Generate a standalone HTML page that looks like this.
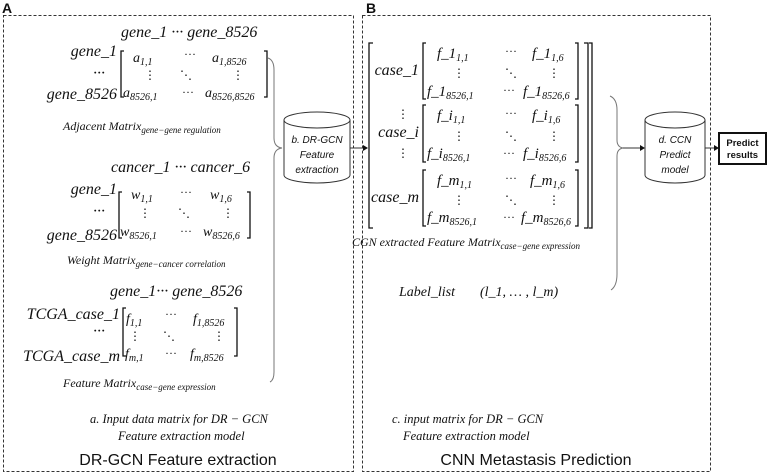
<!DOCTYPE html>
<html><head><meta charset="utf-8"><style>
html,body{margin:0;padding:0;background:#fff;}
svg{display:block;}
.m{font-family:"Liberation Serif","DejaVu Serif",serif;font-style:italic;fill:#111;}
.s{font-family:"Liberation Sans",sans-serif;fill:#111;}
</style></head><body>
<svg width="770" height="475" viewBox="0 0 770 475" xmlns="http://www.w3.org/2000/svg">
<g fill="none" stroke="#333" stroke-width="1" stroke-dasharray="3,2">
<rect x="3.5" y="15.5" width="350" height="456"/>
<rect x="362.5" y="15.5" width="348" height="456"/>
</g>
<text x="2" y="13" class="s" font-size="14" font-weight="bold">A</text>
<text x="366" y="13" class="s" font-size="14" font-weight="bold">B</text>

<g class="m" font-size="16">
<!-- matrix 1 -->
<text x="121" y="37">gene_1 ··· gene_8526</text>
<text x="117" y="56" text-anchor="end">gene_1</text>
<text x="105" y="78" text-anchor="end">···</text>
<text x="117" y="99" text-anchor="end">gene_8526</text>
<text x="133" y="62" font-size="14">a<tspan font-size="10" dy="3">1,1</tspan></text>
<text x="184" y="58" font-size="12" font-style="normal">···</text>
<text x="212" y="62" font-size="14">a<tspan font-size="10" dy="3">1,8526</tspan></text>
<text x="144" y="79" font-size="12" font-style="normal">⋮</text>
<text x="180" y="79" font-size="12" font-style="normal">⋱</text>
<text x="232" y="79" font-size="12" font-style="normal">⋮</text>
<text x="123" y="97" font-size="14">a<tspan font-size="10" dy="3">8526,1</tspan></text>
<text x="182" y="96" font-size="12" font-style="normal">···</text>
<text x="205" y="97" font-size="14">a<tspan font-size="10" dy="3">8526,8526</tspan></text>
<text x="63" y="130" font-size="12">Adjacent Matrix<tspan font-size="9" dy="3">gene−gene regulation</tspan></text>

<!-- matrix 2 -->
<text x="111" y="172">cancer_1 ··· cancer_6</text>
<text x="117" y="194" text-anchor="end">gene_1</text>
<text x="105" y="216" text-anchor="end">···</text>
<text x="117" y="240" text-anchor="end">gene_8526</text>
<text x="131" y="199" font-size="14">w<tspan font-size="10" dy="3">1,1</tspan></text>
<text x="180" y="196" font-size="12" font-style="normal">···</text>
<text x="210" y="199" font-size="14">w<tspan font-size="10" dy="3">1,6</tspan></text>
<text x="139" y="217" font-size="12" font-style="normal">⋮</text>
<text x="178" y="217" font-size="12" font-style="normal">⋱</text>
<text x="222" y="217" font-size="12" font-style="normal">⋮</text>
<text x="120" y="236" font-size="14">w<tspan font-size="10" dy="3">8526,1</tspan></text>
<text x="180" y="235" font-size="12" font-style="normal">···</text>
<text x="203" y="236" font-size="14">w<tspan font-size="10" dy="3">8526,6</tspan></text>
<text x="67" y="264" font-size="12">Weight Matrix<tspan font-size="9" dy="3">gene−cancer correlation</tspan></text>

<!-- matrix 3 -->
<text x="110" y="296">gene_1··· gene_8526</text>
<text x="120" y="319" text-anchor="end">TCGA_case_1</text>
<text x="105" y="336" text-anchor="end">···</text>
<text x="120" y="361" text-anchor="end">TCGA_case_m</text>
<text x="126" y="323" font-size="14">f<tspan font-size="10" dy="3">1,1</tspan></text>
<text x="165" y="318" font-size="12" font-style="normal">···</text>
<text x="193" y="323" font-size="14">f<tspan font-size="10" dy="3">1,8526</tspan></text>
<text x="129" y="340" font-size="12" font-style="normal">⋮</text>
<text x="163" y="340" font-size="12" font-style="normal">⋱</text>
<text x="213" y="340" font-size="12" font-style="normal">⋮</text>
<text x="125" y="358" font-size="14">f<tspan font-size="10" dy="3">m,1</tspan></text>
<text x="165" y="357" font-size="12" font-style="normal">···</text>
<text x="190" y="358" font-size="14">f<tspan font-size="10" dy="3">m,8526</tspan></text>
<text x="63" y="387" font-size="12">Feature Matrix<tspan font-size="9" dy="3">case−gene expression</tspan></text>

<text x="90" y="423" font-size="12.5">a. Input data matrix for DR − GCN</text>
<text x="118" y="440" font-size="12.5">Feature extraction model</text>
</g>
<text x="178" y="465" class="s" font-size="16" text-anchor="middle">DR-GCN Feature extraction</text>

<g fill="none" stroke="#111" stroke-width="1.3">
<path d="M124,51 h-3 v46 h3"/><path d="M264,51 h3 v46 h-3"/>
<path d="M122,192 h-3 v46 h3"/><path d="M247,192 h3 v46 h-3"/>
<path d="M126,308 h-3 v48 h3"/><path d="M234,308 h3 v48 h-3"/>
</g>
<g fill="none" stroke="#777" stroke-width="1">
<path d="M268,58 q6,2 6,12 v68 q0,9 8,10 q-8,1 -8,10 v214 q0,8 -4,10"/>
<path d="M610,96 q7,3 7,14 v30 q0,7 6,8 q-6,1 -6,8 v118 q0,12 -6,16"/>
</g>

<g fill="#fff" stroke="#333" stroke-width="1">
<path d="M284,120 v55 a33,8 0 0 0 66,0 v-55"/>
<ellipse cx="317" cy="120" rx="33" ry="8"/>
</g>
<g class="s" font-size="10" font-style="italic" fill="#444" text-anchor="middle">
<text x="317" y="143">b. DR-GCN</text><text x="317" y="158">Feature</text><text x="317" y="173">extraction</text>
</g>
<path d="M350,148 H364" stroke="#333"/><path d="M368,148 l-5,-3 v6z" fill="#111"/>

<g fill="none" stroke="#111" stroke-width="1.3">
<path d="M373,43 h-4 v185 h4"/><path d="M584,43 h4 v185 h-4"/><path d="M589,43 h3 v185 h-3"/>
<path d="M426,43 h-3 v56 h3"/><path d="M575,43 h3 v56 h-3"/>
<path d="M426,105 h-3 v57 h3"/><path d="M575,105 h3 v57 h-3"/>
<path d="M426,170 h-3 v56 h3"/><path d="M575,170 h3 v56 h-3"/>
</g>
<g class="m" font-size="15">
<text x="419" y="75" text-anchor="end" font-size="16">case_1</text>
<text x="419" y="137" text-anchor="end" font-size="16">case_i</text>
<text x="419" y="202" text-anchor="end" font-size="16">case_m</text>
<text x="403" y="118" font-size="12" font-style="normal" text-anchor="middle">⋮</text>
<text x="403" y="157" font-size="12" font-style="normal" text-anchor="middle">⋮</text>

<text x="437" y="58">f_1<tspan font-size="10" dy="3">1,1</tspan></text>
<text x="505" y="55" font-size="12" font-style="normal">···</text>
<text x="532" y="58">f_1<tspan font-size="10" dy="3">1,6</tspan></text>
<text x="453" y="77" font-size="12" font-style="normal">⋮</text><text x="505" y="77" font-size="12" font-style="normal">⋱</text><text x="548" y="77" font-size="12" font-style="normal">⋮</text>
<text x="427" y="96">f_1<tspan font-size="10" dy="3">8526,1</tspan></text>
<text x="503" y="94" font-size="12" font-style="normal">···</text>
<text x="523" y="96">f_1<tspan font-size="10" dy="3">8526,6</tspan></text>

<text x="437" y="120">f_i<tspan font-size="10" dy="3">1,1</tspan></text>
<text x="505" y="117" font-size="12" font-style="normal">···</text>
<text x="532" y="120">f_i<tspan font-size="10" dy="3">1,6</tspan></text>
<text x="453" y="140" font-size="12" font-style="normal">⋮</text><text x="505" y="140" font-size="12" font-style="normal">⋱</text><text x="548" y="140" font-size="12" font-style="normal">⋮</text>
<text x="427" y="158">f_i<tspan font-size="10" dy="3">8526,1</tspan></text>
<text x="503" y="157" font-size="12" font-style="normal">···</text>
<text x="523" y="158">f_i<tspan font-size="10" dy="3">8526,6</tspan></text>

<text x="437" y="185">f_m<tspan font-size="10" dy="3">1,1</tspan></text>
<text x="505" y="182" font-size="12" font-style="normal">···</text>
<text x="530" y="185">f_m<tspan font-size="10" dy="3">1,6</tspan></text>
<text x="453" y="204" font-size="12" font-style="normal">⋮</text><text x="505" y="204" font-size="12" font-style="normal">⋱</text><text x="548" y="204" font-size="12" font-style="normal">⋮</text>
<text x="427" y="222">f_m<tspan font-size="10" dy="3">8526,1</tspan></text>
<text x="503" y="221" font-size="12" font-style="normal">···</text>
<text x="521" y="222">f_m<tspan font-size="10" dy="3">8526,6</tspan></text>

<text x="352" y="246" font-size="12">CGN extracted Feature Matrix<tspan font-size="9" dy="3">case−gene expression</tspan></text>
<text x="399" y="296" font-size="14">Label_list</text>
<text x="480" y="296" font-size="14">(l_1, … , l_m)</text>
<text x="392" y="423" font-size="12.5">c. input matrix for DR − GCN</text>
<text x="403" y="440" font-size="12.5">Feature extraction model</text>
</g>
<text x="536" y="465" class="s" font-size="16" text-anchor="middle">CNN Metastasis Prediction</text>

<path d="M623,148 H640" stroke="#333"/><path d="M645,148 l-5,-3 v6z" fill="#111"/>
<g fill="#fff" stroke="#333" stroke-width="1">
<path d="M645,120 v55 a30,8 0 0 0 60,0 v-55"/>
<ellipse cx="675" cy="120" rx="30" ry="8"/>
</g>
<g class="s" font-size="10" font-style="italic" fill="#444" text-anchor="middle">
<text x="675" y="143">d. CCN</text><text x="675" y="158">Predict</text><text x="675" y="173">model</text>
</g>
<path d="M705,148 H715" stroke="#333"/><path d="M719,148 l-5,-3 v6z" fill="#111"/>
<rect x="719" y="133" width="47" height="31" fill="#fff" stroke="#111" stroke-width="2"/>
<g class="s" font-size="9.5" font-weight="bold" text-anchor="middle">
<text x="742.5" y="146">Predict</text><text x="742.5" y="158">results</text>
</g>
</svg>
</body></html>
